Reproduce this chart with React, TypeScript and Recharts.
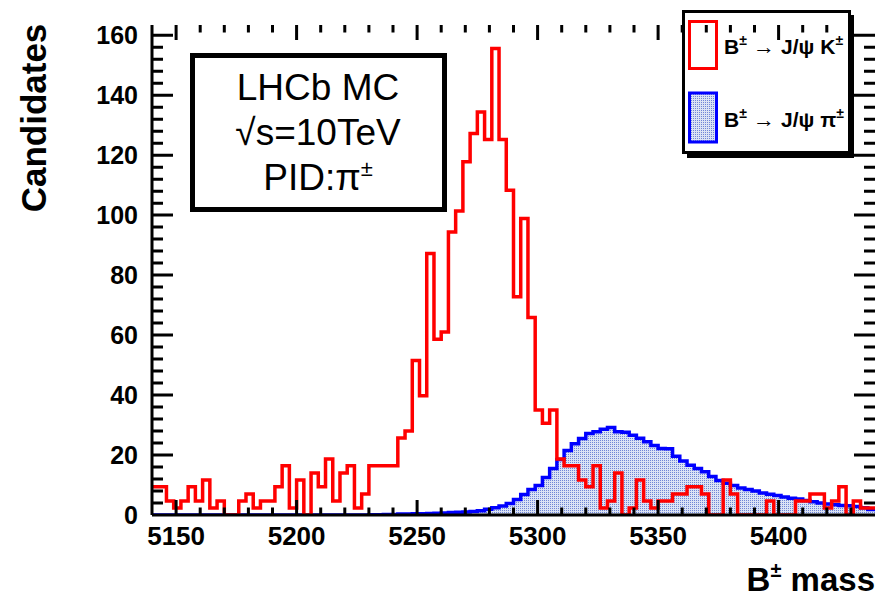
import { ComposedChart, Line, Area, XAxis, YAxis, Legend } from 'recharts'

// histogram binning: 100 bins of 3 MeV from 5140 to 5440
const BIN_START = 5140
const BIN_WIDTH = 3

const KPI_COUNTS = [
  9.4, 9.4, 4.7, 2.3, 4.7, 9.4, 4.7, 11.7, 2.3, 4.7,
  0, 0, 4.7, 7, 2.3, 4.7, 4.7, 9.4, 16.4, 2.3,
  11.7, 0, 14, 9.4, 18.7, 4.7, 14, 16.4, 2.3, 7,
  16.4, 16.4, 16.4, 16.4, 25.7, 28, 51.5, 39.8, 87.2, 58.6,
  61, 94.4, 101.4, 117.8, 127.2, 134.4, 125.2, 155.6, 125.2, 108.3,
  72.8, 98.9, 65.9, 35, 30.6, 35, 18.7, 16.4, 16.4, 11.7,
  9.4, 16.4, 2.3, 4.7, 14, 0, 2.3, 11.7, 4.7, 2.3,
  4.7, 4.7, 7, 7, 9.4, 9.4, 7, 0, 0, 11.7,
  7, 0, 0, 0, 0, 4.7, 0, 0, 0, 4.7,
  4.7, 7, 7, 2.3, 4.7, 9.4, 0, 4.7, 2.3, 2.3,
]

const PI_COUNTS = [
  0, 0, 0, 0, 0, 0, 0, 0, 0, 0,
  0, 0, 0, 0, 0, 0, 0, 0, 0, 0,
  0, 0, 0, 0, 0, 0, 0, 0, 0, 0,
  0.1, 0.1, 0.2, 0.2, 0.3, 0.3, 0.4, 0.4, 0.5, 0.6,
  0.7, 0.8, 0.9, 1.0, 1.2, 1.4, 1.9, 2.4, 3.0, 3.8,
  5.2, 6.8, 8.5, 9.8, 12.5, 15.5, 18.5, 21.5, 23.8, 25.5,
  27.2, 27.8, 28.6, 29.2, 27.8, 27.6, 26.6, 25.6, 24.4, 23.2,
  22.2, 22.1, 19.6, 18.0, 16.6, 15.5, 14.4, 12.8, 11.5, 10.6,
  9.8, 9.0, 8.5, 8.0, 7.3, 6.9, 6.5, 6.0, 5.6, 5.3,
  4.8, 4.4, 4.0, 3.7, 3.4, 3.2, 3.1, 2.8, 2.4, 1.8,
]

const X_MAJOR = [5150, 5200, 5250, 5300, 5350, 5400]
const Y_MAJOR = [0, 20, 40, 60, 80, 100, 120, 140, 160]
const X_DOMAIN = [5140, 5440]
const Y_DOMAIN = [0, 163.4]

// minor ticks every 10 MeV / 4 candidates, inside the frame
const X_MINOR = Array.from({ length: 29 }, (_, i) => 5150 + i * 10)
const Y_MINOR = Array.from({ length: 40 }, (_, i) => 4 + i * 4)

const LEGEND_ITEMS = [
  { name: 'K', key: 'kpi' },
  { name: 'π', key: 'pi' },
]

const FONT = '"Liberation Sans", Arial, Helvetica, sans-serif'

// layout
const W = 878
const H = 599
const MARGIN = { top: 25, right: 3, bottom: 0, left: 0 }
const YAXIS_W = 152
const XAXIS_H = 84
const PLOT_LEFT = MARGIN.left + YAXIS_W
const PLOT_RIGHT = W - MARGIN.right
const PLOT_TOP = MARGIN.top
const PLOT_BOTTOM = H - MARGIN.bottom - XAXIS_H

// same linear mapping as the chart's axes, used for the frame tick marks only
const sx = (v: number) => PLOT_LEFT + ((v - X_DOMAIN[0]) / (X_DOMAIN[1] - X_DOMAIN[0])) * (PLOT_RIGHT - PLOT_LEFT)
const sy = (v: number) => PLOT_BOTTOM - ((v - Y_DOMAIN[0]) / (Y_DOMAIN[1] - Y_DOMAIN[0])) * (PLOT_BOTTOM - PLOT_TOP)

// stepAfter needs a closing point at the upper edge of the last bin
const data = KPI_COUNTS.map((v, i) => ({ x: BIN_START + i * BIN_WIDTH, kpi: v, pi: PI_COUNTS[i] }))
data.push({ x: BIN_START + KPI_COUNTS.length * BIN_WIDTH, kpi: KPI_COUNTS[KPI_COUNTS.length - 1], pi: PI_COUNTS[PI_COUNTS.length - 1] })

const frame = { stroke: '#000', strokeWidth: 3 }

function BottomLabel(props: any) {
  if (!X_MAJOR.includes(props.payload.value)) return <g />
  return (
    <text x={props.x} y={PLOT_BOTTOM + 30} textAnchor="middle" fontFamily={FONT} fontWeight={700} fontSize={26} fill="#000">
      {props.payload.value}
    </text>
  )
}

function LeftLabel(props: any) {
  if (!Y_MAJOR.includes(props.payload.value)) return <g />
  return (
    <text x={PLOT_LEFT - 14} y={Number(props.y) + 9} textAnchor="end" fontFamily={FONT} fontWeight={700} fontSize={25} fill="#000">
      {props.payload.value}
    </text>
  )
}

const Empty = () => <g />

function FrameTicks() {
  const xl = (v: number) => (X_MAJOR.includes(v) ? 15 : 7.5)
  const yl = (v: number) => (Y_MAJOR.includes(v) ? 21 : 11)
  const d = [
    ...X_MINOR.map((v) => `M${sx(v)},${PLOT_BOTTOM}v${-xl(v)}M${sx(v)},${PLOT_TOP}v${xl(v)}`),
    ...Y_MINOR.map((v) => `M${PLOT_LEFT},${sy(v)}h${yl(v)}M${PLOT_RIGHT},${sy(v)}h${-yl(v)}`),
  ].join('')
  return <path d={d} stroke="#000" strokeWidth={3} fill="none" />
}

function DotPattern({ id }: { id: string }) {
  return (
    <pattern id={id} width={2} height={2} patternUnits="userSpaceOnUse">
      <rect width={2} height={2} fill="#dbe3f5" />
      <rect width={1} height={1} fill="#6f86d6" />
    </pattern>
  )
}

function HistLegend() {
  const txt = { fontFamily: FONT, fontWeight: 700, fontSize: 21, fill: '#000' } as const
  return (
    <svg width={176} height={150} style={{ display: 'block' }}>
      <defs>
        <DotPattern id="legdots" />
      </defs>
      <rect x={6} y={5} width={167} height={143} fill="#000" />
      <rect x={2.5} y={1.5} width={166} height={141} fill="#fff" stroke="#000" strokeWidth={3} />
      <rect x={8.5} y={11.5} width={27} height={47} fill="#fff" stroke="#ff0000" strokeWidth={3} />
      <rect x={8.5} y={83} width={27} height={49} fill="url(#legdots)" stroke="#0000ff" strokeWidth={3} />
      {LEGEND_ITEMS.map((it, i) => (
        <text key={it.key} x={43} y={i === 0 ? 44 : 117} {...txt}>
          B<tspan fontSize={14} dy={-9}>±</tspan>
          <tspan dy={9} fontWeight={400} fontSize={22}> → </tspan>J/ψ {it.name}
          <tspan fontSize={14} dy={-9}>±</tspan>
        </text>
      ))}
    </svg>
  )
}

export default function App() {
  return (
    <div style={{ position: 'absolute', left: 0, top: 0, width: W, height: H, background: '#fff' }}>
      <ComposedChart width={W} height={H} data={data} margin={MARGIN}>
        <defs>
          <DotPattern id="dots" />
        </defs>
        <XAxis
          xAxisId="bottom" dataKey="x" type="number" domain={X_DOMAIN} ticks={X_MAJOR} interval={0}
          allowDataOverflow height={XAXIS_H} tickSize={0} tickMargin={0} tickLine={false}
          axisLine={frame} tick={<BottomLabel />}
        />
        <XAxis
          xAxisId="top" orientation="top" dataKey="x" type="number" domain={X_DOMAIN} ticks={X_MAJOR} interval={0}
          allowDataOverflow height={0} tickSize={0} tickMargin={0} tickLine={false}
          axisLine={frame} tick={<Empty />}
        />
        <YAxis
          yAxisId="left" type="number" domain={Y_DOMAIN} ticks={Y_MAJOR} interval={0}
          allowDataOverflow width={YAXIS_W} tickSize={0} tickMargin={0} tickLine={false}
          axisLine={frame} tick={<LeftLabel />}
        />
        <YAxis
          yAxisId="right" orientation="right" type="number" domain={Y_DOMAIN} ticks={Y_MAJOR} interval={0}
          allowDataOverflow width={0} tickSize={0} tickMargin={0} tickLine={false}
          axisLine={frame} tick={<Empty />}
        />
        <Area
          xAxisId="bottom" yAxisId="left" dataKey="pi" type="stepAfter"
          stroke="#0000ff" strokeWidth={3.5} fill="url(#dots)" fillOpacity={1}
          dot={false} activeDot={false} isAnimationActive={false}
        />
        <Line
          xAxisId="bottom" yAxisId="left" dataKey="kpi" type="stepAfter"
          stroke="#ff0000" strokeWidth={3.5} dot={false} activeDot={false} isAnimationActive={false}
        />
        <Legend
          content={<HistLegend />} layout="horizontal" verticalAlign="middle" align="center"
          wrapperStyle={{ left: 681, top: 10, width: 176, height: 150 }}
        />
      </ComposedChart>

      {/* frame ticks, annotation box and axis titles */}
      <svg width={W} height={H} style={{ position: 'absolute', left: 0, top: 0, pointerEvents: 'none' }}>
        <FrameTicks />
        <rect x={192.5} y={55.5} width={252} height={154} fill="#fff" stroke="#000" strokeWidth={5} />
        <g fontFamily={FONT} fontSize={37} textAnchor="middle" fill="#000">
          <text x={318} y={100}>LHCb MC</text>
          <text x={318} y={145}>√s=10TeV</text>
          <text x={318} y={190}>
            PID:π<tspan fontSize={22} dy={-14}>±</tspan>
          </text>
        </g>
        <text
          x={46} y={118} transform="rotate(-90 46 118)" textAnchor="middle"
          fontFamily={FONT} fontWeight={700} fontSize={35} fill="#000"
        >
          Candidates
        </text>
        <text x={875} y={591} textAnchor="end" fontFamily={FONT} fontWeight={700} fontSize={33} fill="#000">
          B<tspan fontSize={20} dy={-14}>±</tspan>
          <tspan dy={14}> mass</tspan>
        </text>
      </svg>
    </div>
  )
}
